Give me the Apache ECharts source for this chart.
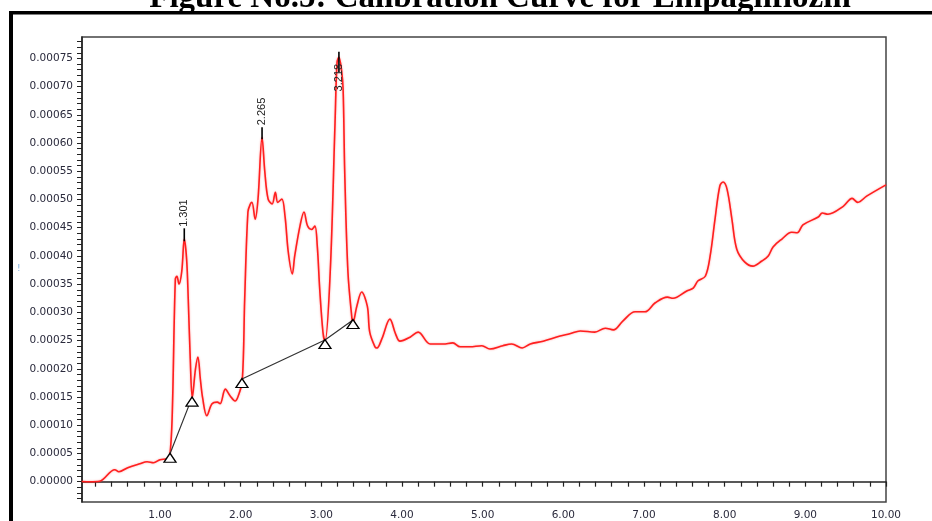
<!DOCTYPE html>
<html>
<head>
<meta charset="utf-8">
<script src="https://cdn.jsdelivr.net/npm/echarts@6/dist/echarts.min.js"></script>
<style>
html, body { margin: 0; padding: 0; background: #fff; }
#chart { width: 932px; height: 521px; }
</style>
</head>
<body>
<div id="chart"></div>
<script>
// retention time (min) and detector signal (in 1e-5 AU)
var times = [
    0.03, 0.13, 0.25, 0.44, 0.49, 0.60, 0.75, 0.84, 0.92, 1.00,
    1.09, 1.12, 1.15, 1.19, 1.21, 1.235, 1.27, 1.301, 1.33, 1.35,
    1.375, 1.40, 1.44, 1.47, 1.50, 1.53, 1.58, 1.645, 1.71, 1.745,
    1.81, 1.87, 1.93, 1.97, 2.02, 2.05, 2.09, 2.12, 2.14, 2.18,
    2.215, 2.265, 2.30, 2.34, 2.39, 2.43, 2.46, 2.51, 2.55, 2.59,
    2.64, 2.67, 2.735, 2.785, 2.83, 2.88, 2.92, 2.95, 2.98, 3.02,
    3.045, 3.11, 3.17, 3.195, 3.218, 3.25, 3.27, 3.29, 3.33, 3.38,
    3.39, 3.44, 3.50, 3.57, 3.60, 3.665, 3.69, 3.75, 3.85, 3.92,
    3.975, 4.10, 4.20, 4.35, 4.51, 4.63, 4.72, 4.84, 4.99, 5.09,
    5.25, 5.36, 5.49, 5.59, 5.75, 5.96, 6.08, 6.21, 6.39, 6.52,
    6.62, 6.74, 6.89, 7.01, 7.14, 7.29, 7.36, 7.53, 7.61, 7.67,
    7.76, 7.82, 7.88, 7.94, 7.98, 8.03, 8.09, 8.15, 8.25, 8.35,
    8.46, 8.54, 8.60, 8.71, 8.83, 8.90, 8.97, 9.16, 9.21, 9.28,
    9.47, 9.58, 9.65, 9.76, 10.00
];
var signal = [
    0.02, -0.01, 0.07, 2.12, 1.77, 2.48, 3.18, 3.54, 3.36, 3.89,
    4.07, 4.42, 11.1, 35.9, 36.4, 35.0, 37.3, 43.0, 39.4, 32.4,
    21.8, 14.9, 20.0, 22.1, 18.2, 14.7, 11.7, 13.8, 14.1, 13.8,
    16.4, 15.2, 14.3, 15.2, 17.9, 32.4, 47.8, 49.2, 49.5, 46.5,
    50.1, 61.0, 54.8, 50.1, 49.2, 51.3, 49.5, 50.1, 47.0, 40.7,
    36.8, 40.0, 45.3, 47.8, 45.3, 44.7, 45.3, 41.7, 34.1, 26.5,
    24.8, 37.1, 63.7, 74.3, 75.2, 73.0, 69.5, 54.8, 37.1, 28.8,
    28.1, 31.1, 33.6, 31.1, 26.5, 23.9, 23.7, 25.3, 28.8, 26.2,
    24.9, 25.6, 26.5, 24.4, 24.4, 24.6, 23.9, 23.9, 24.1, 23.5,
    24.1, 24.4, 23.7, 24.4, 24.9, 25.8, 26.2, 26.7, 26.5, 27.2,
    26.9, 28.5, 30.1, 30.1, 31.7, 32.7, 32.5, 33.8, 34.3, 35.6,
    36.4, 40.0, 46.5, 52.4, 53.1, 51.8, 46.5, 41.2, 38.9, 38.2,
    39.1, 40.0, 41.6, 43.0, 44.2, 44.1, 45.5, 46.9, 47.6, 47.4,
    48.8, 50.2, 49.5, 50.6, 52.6
];

// integration baseline (null = gap between the two segments)
var baseTimes = [1.124, 1.397, null, 2.016, 3.045, 3.392];
var baseValues = [4.95, 14.9, null, 18.2, 25.1, 28.65];

// peak markers
var peakTimes = [1.301, 2.265, 3.218];
var peakLabels = ['1.301', '2.265', '3.218'];
var tickBottoms = [42.6, 60.7, 72.5];
var tickTops = [44.9, 62.8, 76.2];
var labelCenters = [47.6, 65.6, 71.6];

var xLabelValues = [1, 2, 3, 4, 5, 6, 7, 8, 9, 10];
var yLabelValues = [0, 5, 10, 15, 20, 25, 30, 35, 40, 45, 50, 55, 60, 65, 70, 75];

var xTickValues = [];
for (var k = 1; k <= 50; k++) xTickValues.push(Math.round(k * 2) / 10);
var yTickValues = [];
for (var j = -3; j <= 78; j++) yTickValues.push(j);

var curve = [];
for (var i = 0; i < times.length; i++) {
    curve.push([times[i], signal[i]]);
}
var baseline = [];
for (var i = 0; i < baseTimes.length; i++) {
    baseline.push(baseTimes[i] === null ? '-' : [baseTimes[i], baseValues[i]]);
}
var peaks = [];
for (var i = 0; i < peakTimes.length; i++) {
    peaks.push([peakTimes[i], tickBottoms[i], tickTops[i], labelCenters[i]]);
}

var axisFont = {
    fontFamily: 'DejaVu Sans',
    fontSize: 10.5,
    color: '#2a2a3c'
};

var myChart = echarts.init(document.getElementById('chart'));
var option = {
    animation: false,
    backgroundColor: '#fff',
    grid: {
        left: 82,
        right: 46,
        top: 37,
        bottom: 18,
        show: true,
        borderColor: '#444',
        borderWidth: 1.5
    },
    graphic: [
        {
            type: 'text',
            x: 500,
            y: -18,
            style: {
                text: 'Figure No.5: Calibration Curve for Empagliflozin',
                font: 'bold 33px "Liberation Serif"',
                fill: '#000',
                align: 'center'
            }
        },
        {
            type: 'rect',
            shape: { x: 9, y: 11, width: 923, height: 3.5 },
            style: { fill: '#000' }
        },
        {
            type: 'rect',
            shape: { x: 9, y: 11, width: 4, height: 510 },
            style: { fill: '#000' }
        },
        {
            type: 'text',
            x: 17,
            y: 264,
            style: { text: '!', font: '9px "DejaVu Sans"', fill: '#7fb0e0' }
        }
    ],
    xAxis: {
        type: 'value',
        min: 0.033,
        max: 10,
        axisLine: { lineStyle: { color: '#222', width: 1.5 } },
        axisTick: {
            customValues: xTickValues,
            length: 5,
            lineStyle: { color: '#222', width: 1.2 }
        },
        axisLabel: Object.assign({
            customValues: xLabelValues,
            margin: 8,
            formatter: function (v) { return v.toFixed(2); }
        }, axisFont),
        splitLine: { show: false }
    },
    yAxis: {
        type: 'value',
        min: -3.6,
        max: 78.8,
        axisLine: { show: true, lineStyle: { color: '#222', width: 1.5 } },
        axisTick: {
            show: true,
            customValues: yTickValues,
            length: 5,
            lineStyle: { color: '#222', width: 1 }
        },
        axisLabel: Object.assign({
            customValues: yLabelValues,
            margin: 9,
            formatter: function (v) { return (v / 100000).toFixed(5); }
        }, axisFont),
        splitLine: { show: false }
    },
    series: [
        {
            name: 'signal',
            type: 'line',
            data: curve,
            showSymbol: false,
            smooth: 0.35,
            color: '#ff1f1f',
            lineStyle: {
                width: 1.6,
                color: '#ff1f1f',
                shadowColor: 'rgba(255, 40, 40, 0.45)',
                shadowBlur: 2
            },
            z: 2
        },
        {
            name: 'baseline',
            type: 'line',
            data: baseline,
            connectNulls: false,
            symbol: 'triangle',
            symbolSize: [12, 9],
            symbolOffset: [0, 4],
            showSymbol: true,
            lineStyle: { color: '#333', width: 1.2 },
            itemStyle: { color: '#fff', borderColor: '#000', borderWidth: 1.3 },
            z: 3
        },
        {
            name: 'peaks',
            type: 'custom',
            data: peaks,
            z: 4,
            renderItem: function (params, api) {
                var p0 = api.coord([api.value(0), api.value(1)]);
                var p1 = api.coord([api.value(0), api.value(2)]);
                var pl = api.coord([api.value(0), api.value(3)]);
                return {
                    type: 'group',
                    children: [
                        {
                            type: 'line',
                            shape: { x1: p0[0], y1: p0[1], x2: p1[0], y2: p1[1] },
                            style: { stroke: '#000', lineWidth: 1.6 }
                        },
                        {
                            type: 'text',
                            x: pl[0],
                            y: pl[1],
                            rotation: Math.PI / 2,
                            style: {
                                text: peakLabels[params.dataIndex],
                                align: 'center',
                                verticalAlign: 'middle',
                                font: '11px "Liberation Sans"',
                                fill: '#222'
                            }
                        }
                    ]
                };
            }
        }
    ]
};
myChart.setOption(option);
</script>
</body>
</html>
